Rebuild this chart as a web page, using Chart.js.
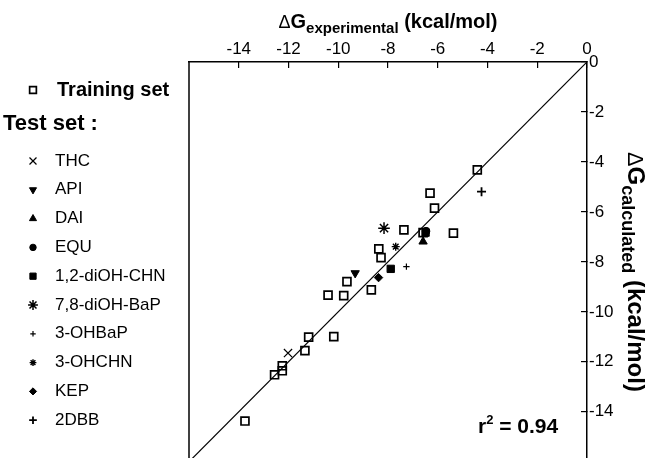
<!DOCTYPE html>
<html>
<head>
<meta charset="utf-8">
<script src="https://cdn.jsdelivr.net/npm/chart.js@4.4.1/dist/chart.umd.min.js"></script>
<style>
html, body { margin: 0; padding: 0; background: #fff; overflow: hidden; }
</style>
</head>
<body>
<canvas id="Chart" width="645" height="458"></canvas>
<script>
// tick labels
var xTicks = [-14, -12, -10, -8, -6, -4, -2, 0];
var yTicks = [0, -2, -4, -6, -8, -10, -12, -14];

// training set
var trainX = [-4.41, -6.31, -6.13, -7.36, -6.59, -5.37, -8.37, -8.28, -9.65, -8.67,
              -10.41, -9.78, -11.19, -10.18, -11.34, -12.25, -12.25, -12.56, -13.75];
var trainY = [-4.32, -5.25, -5.85, -6.72, -6.83, -6.85, -7.48, -7.83, -8.79, -9.12,
              -9.33, -9.35, -11.01, -10.99, -11.55, -12.16, -12.36, -12.52, -14.37];

// test set
var thcX = [-12.02],  thcY = [-11.65];
var apiX = [-9.32],   apiY = [-8.45];
var daiX = [-6.59],   daiY = [-7.19];
var equX = [-6.47],   equY = [-6.77];
var chnX = [-6.49, -7.89], chnY = [-6.83, -8.28];
var bapX = [-8.16],   bapY = [-6.65];
var ohbapX = [-7.26], ohbapY = [-8.19];
var ohchnX = [-7.69], ohchnY = [-7.39];
var kepX = [-8.38],   kepY = [-8.63];
var dbbX = [-4.24],   dbbY = [-5.19];

// y = x line
var diagX = [-16, 0];
var diagY = [-16, 0];

var r2 = 0.94;

var FONT = '"Liberation Sans", Arial, Helvetica, sans-serif';

function pts(xs, ys) {
    return xs.map(function (x, i) { return { x: x, y: ys[i] }; });
}

function marker(label, xs, ys, style, radius, width, fill, rotation) {
    return {
        type: 'scatter',
        label: label,
        data: pts(xs, ys),
        pointStyle: style,
        pointRadius: radius,
        pointHoverRadius: radius,
        pointRotation: rotation || 0,
        borderWidth: width,
        pointBorderWidth: width,
        borderColor: '#000',
        backgroundColor: fill ? '#000' : 'rgba(0,0,0,0)',
        order: 1
    };
}

var datasets = [
    marker('Training set', trainX, trainY, 'rect', 5.6, 1.7, false),
    marker('THC', thcX, thcY, 'crossRot', 5.8, 1.2, false),
    marker('API', apiX, apiY, 'triangle', 4.8, 1, true, 180),
    marker('DAI', daiX, daiY, 'triangle', 4.8, 1, true),
    marker('EQU', equX, equY, 'circle', 3.8, 1, true),
    marker('1,2-diOH-CHN', chnX, chnY, 'rect', 5.2, 1, true),
    marker('7,8-diOH-BaP', bapX, bapY, 'star', 5.8, 1.5, false),
    marker('3-OHBaP', ohbapX, ohbapY, 'cross', 3.2, 1.2, false),
    marker('3-OHCHN', ohchnX, ohchnY, 'star', 4, 1.4, false),
    marker('KEP', kepX, kepY, 'rectRot', 4.2, 1, true),
    marker('2DBB', dbbX, dbbY, 'cross', 4.5, 1.8, false),
    {
        type: 'line',
        label: 'diag',
        data: pts(diagX, diagY),
        borderColor: '#000',
        borderWidth: 1.2,
        pointRadius: 0,
        fill: false,
        order: 5
    }
];

// left frame line
var leftEdge = {
    id: 'leftEdge',
    afterDatasetsDraw: function (chart) {
        var a = chart.chartArea, ctx = chart.ctx;
        ctx.save();
        ctx.strokeStyle = '#000';
        ctx.lineWidth = 1.5;
        ctx.beginPath();
        ctx.moveTo(a.left, a.top);
        ctx.lineTo(a.left, a.bottom);
        ctx.stroke();
        ctx.restore();
    }
};

// draws "ΔG" + subscript + " (kcal/mol)" starting at 0,0
function deltaTitle(ctx, sub, big, small, drop) {
    var x = 0;
    ctx.font = big * 0.9 + 'px ' + FONT;
    ctx.fillText('\u0394', x, 0);
    x += ctx.measureText('\u0394').width;
    ctx.font = 'bold ' + big + 'px ' + FONT;
    ctx.fillText('G', x, 0);
    x += ctx.measureText('G').width;
    ctx.font = 'bold ' + small + 'px ' + FONT;
    ctx.fillText(sub, x, drop);
    x += ctx.measureText(sub).width;
    ctx.font = 'bold ' + big + 'px ' + FONT;
    ctx.fillText(' (kcal/mol)', x, 0);
    return x;
}

function titleWidth(ctx, sub, big, small) {
    var w = 0;
    ctx.font = big * 0.9 + 'px ' + FONT;
    w += ctx.measureText('\u0394').width;
    ctx.font = 'bold ' + big + 'px ' + FONT;
    w += ctx.measureText('G').width + ctx.measureText(' (kcal/mol)').width;
    ctx.font = 'bold ' + small + 'px ' + FONT;
    w += ctx.measureText(sub).width;
    return w;
}

var annotations = {
    id: 'annotations',
    afterDraw: function (chart) {
        var ctx = chart.ctx, a = chart.chartArea;
        ctx.save();
        ctx.fillStyle = '#000';
        ctx.textBaseline = 'alphabetic';
        ctx.textAlign = 'left';

        // top axis title
        var w = titleWidth(ctx, 'experimental', 20, 15);
        ctx.save();
        ctx.translate((a.left + a.right) / 2 - w / 2, 28);
        deltaTitle(ctx, 'experimental', 20, 15, 5);
        ctx.restore();

        // right axis title
        w = titleWidth(ctx, 'calculated', 24, 18);
        ctx.save();
        ctx.translate(628, 272 - w / 2);
        ctx.rotate(Math.PI / 2);
        deltaTitle(ctx, 'calculated', 24, 18, 6);
        ctx.restore();

        // r squared
        ctx.font = 'bold 21px ' + FONT;
        ctx.fillText('r', 478, 433);
        var rx = 478 + ctx.measureText('r').width;
        ctx.font = 'bold 13px ' + FONT;
        ctx.fillText('2', rx, 424);
        rx += ctx.measureText('2').width;
        ctx.font = 'bold 21px ' + FONT;
        ctx.fillText(' = ' + r2.toFixed(2), rx, 433);

        // legend
        ctx.textBaseline = 'middle';
        var ds = chart.data.datasets;
        var draw = Chart.helpers && Chart.helpers.drawPoint;
        function mark(d, x, y) {
            if (!draw) return;
            ctx.save();
            ctx.strokeStyle = d.borderColor;
            ctx.fillStyle = d.backgroundColor;
            ctx.lineWidth = d.pointBorderWidth;
            draw(ctx, { pointStyle: d.pointStyle, radius: d.pointRadius * 0.85,
                        rotation: d.pointRotation, borderWidth: d.pointBorderWidth }, x, y);
            ctx.restore();
        }
        mark(ds[0], 33, 90);
        ctx.font = 'bold 20px ' + FONT;
        ctx.fillText(ds[0].label, 57, 90);
        ctx.font = 'bold 22px ' + FONT;
        ctx.fillText('Test set :', 3, 124);
        ctx.font = '17px ' + FONT;
        for (var i = 1; i <= 10; i++) {
            var y = 161 + (i - 1) * 28.8;
            mark(ds[i], 33, y);
            ctx.fillStyle = '#000';
            ctx.fillText(ds[i].label, 55, y);
        }
        ctx.restore();
    }
};

function noPad(s) {
    s.paddingTop = 0;
    s.paddingBottom = 0;
    s.paddingLeft = 0;
    s.paddingRight = 0;
}

const ctx = document.getElementById('Chart').getContext('2d');
const Charts = new Chart(ctx, {
    data: { datasets: datasets },
    options: {
        responsive: false,
        animation: false,
        devicePixelRatio: 1,
        events: [],
        layout: { autoPadding: false, padding: { left: 189, right: 0, top: 0, bottom: 0 } },
        plugins: {
            legend: { display: false },
            tooltip: { enabled: false }
        },
        scales: {
            x: {
                type: 'linear',
                position: 'top',
                min: -16,
                max: 0,
                afterBuildTicks: function (s) { s.ticks = xTicks.map(function (v) { return { value: v }; }); },
                afterFit: function (s) { s.height = 62; noPad(s); },
                grid: { drawOnChartArea: false, drawTicks: true, tickLength: -6, color: '#000', lineWidth: 1.2 },
                border: { display: true, color: '#000', width: 1.5 },
                ticks: { color: '#000', font: { family: FONT, size: 17 }, padding: 8, maxRotation: 0, autoSkip: false }
            },
            y: {
                type: 'linear',
                position: 'right',
                min: -15.85,
                max: 0,
                afterBuildTicks: function (s) { s.ticks = yTicks.map(function (v) { return { value: v }; }); },
                afterFit: function (s) { s.width = 58; noPad(s); },
                grid: { drawOnChartArea: false, drawTicks: true, tickLength: -6, color: '#000', lineWidth: 1.2 },
                border: { display: true, color: '#000', width: 1.5 },
                ticks: { color: '#000', font: { family: FONT, size: 17 }, padding: 8, autoSkip: false }
            }
        }
    },
    plugins: [leftEdge, annotations]
});
</script>
</body>
</html>
